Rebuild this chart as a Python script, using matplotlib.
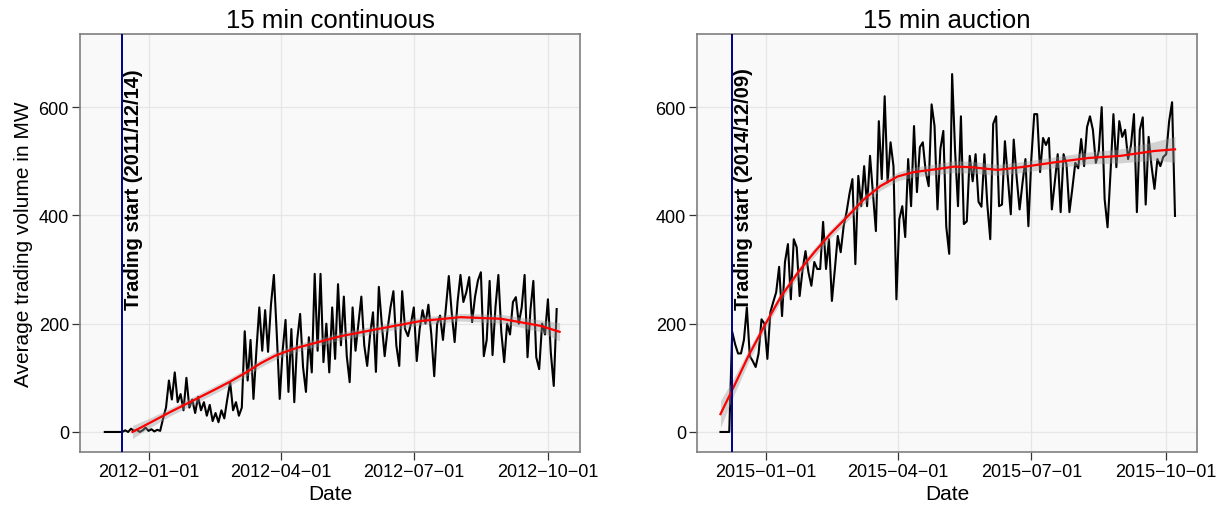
import numpy as np
import matplotlib
matplotlib.use("Agg")
import matplotlib.pyplot as plt

plt.rcParams['font.family'] = ['Liberation Sans', 'DejaVu Sans']

# ---------------- data: 15 min continuous (every 2nd day from 2011-12-02) ----------------
cont_start = "2011-12-02"
cont_values = [
    0, 0, 0, 0, 0, 0, 0,
    3, 0, 6, 2, 4, 0, 3, 8, 2, 5, 1, 4, 2,
    25, 45, 95, 60, 110, 55, 70, 40, 100, 45,
    60, 35, 65, 40, 55, 30, 50, 20, 35, 18,
    40, 25, 60, 92, 40, 55, 30, 45, 186, 95,
    170, 61, 150, 230, 150, 225, 148, 235, 290, 180,
    61, 150, 207, 74, 190, 55, 170, 218, 120, 74,
    175, 110, 292, 150, 292, 129, 200, 110, 230, 135,
    273, 160, 250, 140, 92, 230, 150, 200, 250, 160,
    122, 180, 221, 111, 268, 200, 140, 190, 230, 260,
    160, 122, 260, 190, 177, 200, 230, 131, 190, 225,
    200, 235, 180, 103, 200, 215, 170, 230, 288, 220,
    166, 240, 290, 240, 258, 286, 203, 250, 280, 295,
    140, 170, 279, 142, 230, 290, 185, 129, 200, 180,
    240, 249, 200, 230, 290, 138, 225, 279, 138, 116,
    200, 180, 245, 146, 85, 227,
]
cont_trading_start = "2011-12-14"
cont_smooth_dates = ["2011-12-21", "2012-01-02", "2012-01-16", "2012-02-02", "2012-02-16",
                     "2012-02-26", "2012-03-08", "2012-03-18", "2012-03-28", "2012-04-08",
                     "2012-04-14", "2012-04-28", "2012-05-12", "2012-06-08", "2012-07-06",
                     "2012-08-02", "2012-08-30", "2012-09-26", "2012-10-09"]
cont_smooth = [0, 17, 37, 60, 79, 93, 110, 127, 141, 152,
               157, 167, 177, 191, 205, 212, 209, 196, 185]
cont_band = [12, 9, 7, 7, 7, 7, 7, 7, 7, 7, 7, 7, 7, 7, 7, 7, 8, 11, 17]

# ---------------- data: 15 min auction (every 2nd day from 2014-12-01) ----------------
auct_start = "2014-12-01"
auct_values = [
    0, 0, 0, 0, 185, 162, 145, 145, 170, 230,
    140, 131, 120, 145, 208, 200, 135, 221, 240, 258,
    305, 214, 314, 347, 245, 356, 341, 251, 300, 334,
    295, 270, 314, 301, 301, 388, 301, 356, 242, 300,
    362, 332, 380, 406, 440, 467, 310, 473, 417, 491,
    417, 510, 440, 371, 574, 467, 620, 461, 535, 491,
    245, 393, 417, 360, 504, 417, 565, 443, 526, 535,
    480, 454, 605, 565, 411, 523, 556, 379, 329, 661,
    520, 417, 583, 384, 389, 510, 463, 513, 425, 416,
    513, 420, 356, 569, 583, 417, 420, 537, 470, 402,
    540, 470, 411, 460, 504, 380, 504, 587, 587, 480,
    543, 530, 543, 411, 461, 513, 406, 513, 494, 406,
    450, 497, 487, 541, 491, 563, 583, 558, 497, 519,
    600, 430, 378, 478, 587, 489, 574, 545, 558, 504,
    530, 587, 406, 558, 581, 420, 545, 491, 449, 504,
    491, 508, 513, 574, 609, 399,
]
auct_trading_start = "2014-12-09"
auct_smooth_dates = ["2014-12-01", "2014-12-10", "2014-12-20", "2014-12-31", "2015-01-11",
                     "2015-01-23", "2015-02-03", "2015-02-14", "2015-02-26", "2015-03-09",
                     "2015-03-20", "2015-04-01", "2015-04-12", "2015-04-29", "2015-05-09",
                     "2015-05-21", "2015-06-08", "2015-06-24", "2015-07-17", "2015-08-09",
                     "2015-08-31", "2015-09-23", "2015-10-07"]
auct_smooth = [33, 83, 140, 196, 249, 295, 332, 366, 399, 430,
               454, 472, 480, 486, 490, 489, 484, 489, 498, 506,
               510, 519, 522]
auct_band = [25, 16, 11, 9, 8, 8, 8, 8, 8, 8, 8, 8, 9, 10, 11, 11, 10, 10, 10, 11, 13, 17, 24]

titles = ["15 min continuous", "15 min auction"]
xtick_dates = [["2012-01-01", "2012-04-01", "2012-07-01", "2012-10-01"],
               ["2015-01-01", "2015-04-01", "2015-07-01", "2015-10-01"]]
xlims = [("2011-11-15", "2012-10-23"), ("2014-11-15", "2015-10-22")]
yticks = [0, 200, 400, 600]
ylabel = "Average trading volume in MW"
xlabel = "Date"

# ---------------- figure ----------------
fig = plt.figure(figsize=(12.3, 5.06), dpi=100)
fig.patch.set_facecolor("white")
axes = [fig.add_axes([80/1230, 53/506, 500/1230, 418/506]),
        fig.add_axes([697/1230, 53/506, 500/1230, 418/506])]

panels = [
    (cont_start, cont_values, cont_trading_start, cont_smooth_dates, cont_smooth, cont_band,
     "Trading start (2011/12/14)"),
    (auct_start, auct_values, auct_trading_start, auct_smooth_dates, auct_smooth, auct_band,
     "Trading start (2014/12/09)"),
]

for k, (ax, (start, vals, tstart, sdates, smooth, band, label)) in enumerate(zip(axes, panels)):
    vals = np.array(vals, dtype=float)
    dates = np.datetime64(start) + np.arange(len(vals)) * np.timedelta64(2, 'D')
    sd = np.array(sdates, dtype='datetime64[D]')
    sm = np.array(smooth, dtype=float)
    bd = np.array(band, dtype=float)

    ax.set_facecolor("#F9F9F9")
    ax.plot(dates, vals, color="black", lw=1.5, zorder=3, solid_joinstyle="round")
    ax.fill_between(sd, sm - bd, sm + bd, color="#999999", alpha=0.4, lw=0, zorder=4)
    ax.plot(sd, sm, color="#FF0000", lw=1.6, zorder=5)
    ts = np.datetime64(tstart)
    ax.axvline(ts, color="#00008B", lw=1.4, zorder=6)
    ax.text(ts + np.timedelta64(8, 'D'), 450, label, rotation=90, ha="center", va="center",
            fontsize=14.5, fontweight="bold", color="black", zorder=7)

    ax.set_xlim(np.datetime64(xlims[k][0]), np.datetime64(xlims[k][1]))
    ax.set_ylim(-37, 735)
    ticks = np.array(xtick_dates[k], dtype='datetime64[D]')
    ax.set_xticks(ticks)
    ax.set_xticklabels([t.replace("-", "\u2212") for t in xtick_dates[k]])
    ax.set_yticks(yticks)
    ax.set_yticklabels([str(v) for v in yticks])
    ax.grid(True, color="#E6E6E6", lw=0.9, zorder=0)
    ax.set_axisbelow(True)
    for sp in ax.spines.values():
        sp.set_color("#7F7F7F")
        sp.set_linewidth(1.2)
    ax.tick_params(axis="both", length=5.5, width=0.9, color="#333333", labelsize=13,
                   labelcolor="black", pad=2.5)
    ax.set_title(titles[k], fontsize=18.5, pad=5)
    ax.set_xlabel(xlabel, fontsize=15, labelpad=3)

axes[0].set_ylabel(ylabel, fontsize=15, labelpad=4)

fig.savefig("out.png", dpi=100, facecolor="white")
